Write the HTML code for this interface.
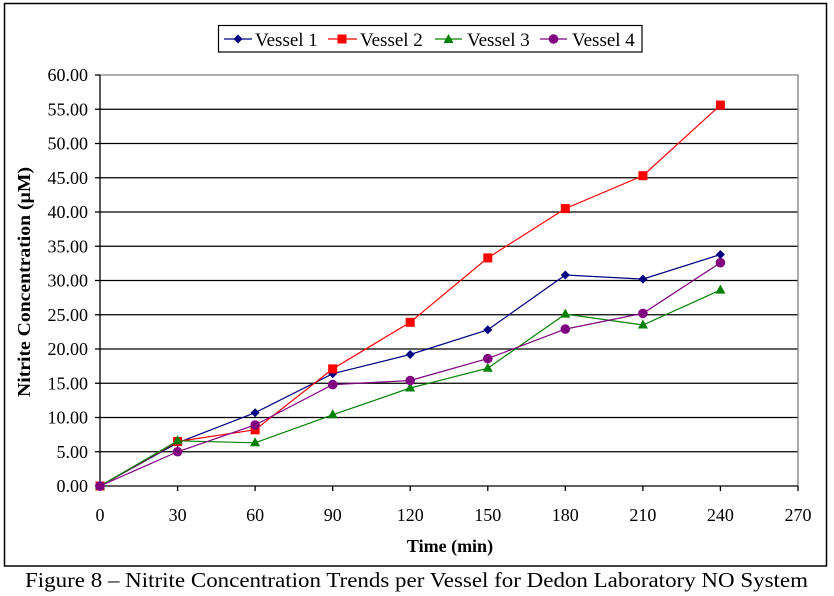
<!DOCTYPE html>
<html>
<head>
<meta charset="utf-8">
<style>
html,body{margin:0;padding:0;background:#fff;}
svg{display:block;font-family:"Liberation Serif","Times New Roman",serif;}
</style>
</head>
<body>
<svg width="834" height="596" viewBox="0 0 834 596" xmlns="http://www.w3.org/2000/svg">
<rect x="0" y="0" width="834" height="596" fill="#fff"/>
<!-- outer chart border -->
<rect x="4.5" y="3.5" width="822" height="562.5" fill="none" stroke="#000" stroke-width="1.5"/>

<!-- gridlines -->
<g stroke="#000" stroke-width="1.3">
<line x1="100" y1="451.75" x2="798" y2="451.75"/>
<line x1="100" y1="417.5" x2="798" y2="417.5"/>
<line x1="100" y1="383.25" x2="798" y2="383.25"/>
<line x1="100" y1="349" x2="798" y2="349"/>
<line x1="100" y1="314.75" x2="798" y2="314.75"/>
<line x1="100" y1="280.5" x2="798" y2="280.5"/>
<line x1="100" y1="246.25" x2="798" y2="246.25"/>
<line x1="100" y1="212" x2="798" y2="212"/>
<line x1="100" y1="177.75" x2="798" y2="177.75"/>
<line x1="100" y1="143.5" x2="798" y2="143.5"/>
<line x1="100" y1="109.25" x2="798" y2="109.25"/>
</g>
<!-- plot area border top/right gray -->
<polyline points="100,75 798,75 798,486" fill="none" stroke="#808080" stroke-width="1.3"/>
<!-- axes -->
<line x1="100" y1="75" x2="100" y2="486.5" stroke="#000" stroke-width="1.3"/>
<line x1="100" y1="486" x2="798" y2="486" stroke="#000" stroke-width="1.3"/>
<!-- y ticks -->
<g stroke="#000" stroke-width="1.3">
<line x1="95" y1="75" x2="100" y2="75"/>
<line x1="95" y1="109.25" x2="100" y2="109.25"/>
<line x1="95" y1="143.5" x2="100" y2="143.5"/>
<line x1="95" y1="177.75" x2="100" y2="177.75"/>
<line x1="95" y1="212" x2="100" y2="212"/>
<line x1="95" y1="246.25" x2="100" y2="246.25"/>
<line x1="95" y1="280.5" x2="100" y2="280.5"/>
<line x1="95" y1="314.75" x2="100" y2="314.75"/>
<line x1="95" y1="349" x2="100" y2="349"/>
<line x1="95" y1="383.25" x2="100" y2="383.25"/>
<line x1="95" y1="417.5" x2="100" y2="417.5"/>
<line x1="95" y1="451.75" x2="100" y2="451.75"/>
<line x1="95" y1="486" x2="100" y2="486"/>
<!-- x ticks -->
<line x1="100" y1="486" x2="100" y2="491"/>
<line x1="177.6" y1="486" x2="177.6" y2="491"/>
<line x1="255.1" y1="486" x2="255.1" y2="491"/>
<line x1="332.7" y1="486" x2="332.7" y2="491"/>
<line x1="410.2" y1="486" x2="410.2" y2="491"/>
<line x1="487.8" y1="486" x2="487.8" y2="491"/>
<line x1="565.3" y1="486" x2="565.3" y2="491"/>
<line x1="642.9" y1="486" x2="642.9" y2="491"/>
<line x1="720.4" y1="486" x2="720.4" y2="491"/>
<line x1="798" y1="486" x2="798" y2="491"/>
</g>

<!-- y tick labels -->
<g font-size="18" text-anchor="end" fill="#000">
<text x="88" y="81">60.00</text>
<text x="88" y="115.25">55.00</text>
<text x="88" y="149.5">50.00</text>
<text x="88" y="183.75">45.00</text>
<text x="88" y="218">40.00</text>
<text x="88" y="252.25">35.00</text>
<text x="88" y="286.5">30.00</text>
<text x="88" y="320.75">25.00</text>
<text x="88" y="355">20.00</text>
<text x="88" y="389.25">15.00</text>
<text x="88" y="423.5">10.00</text>
<text x="88" y="457.75">5.00</text>
<text x="88" y="492">0.00</text>
</g>
<!-- x tick labels -->
<g font-size="18" text-anchor="middle" fill="#000">
<text x="100" y="521">0</text>
<text x="177.6" y="521">30</text>
<text x="255.1" y="521">60</text>
<text x="332.7" y="521">90</text>
<text x="410.2" y="521">120</text>
<text x="487.8" y="521">150</text>
<text x="565.3" y="521">180</text>
<text x="642.9" y="521">210</text>
<text x="720.4" y="521">240</text>
<text x="798" y="521">270</text>
</g>

<!-- axis titles -->
<text x="450" y="552" font-size="18" font-weight="bold" text-anchor="middle">Time (min)</text>
<text transform="translate(30,282) rotate(-90)" font-size="18" font-weight="bold" text-anchor="middle" textLength="230" lengthAdjust="spacingAndGlyphs">Nitrite Concentration (µM)</text>

<!-- Series 1 -->
<polyline fill="none" stroke="#000080" stroke-width="1.2" points="100,486 177.6,442.8 255.1,412.7 332.7,373.7 410.2,354.5 487.8,329.8 565.3,275 642.9,279.1 720.4,254.5"/>
<g fill="#000080">
<polygon points="100,481.5 104.5,486 100,490.5 95.5,486"/>
<polygon points="177.6,438.3 182.1,442.8 177.6,447.3 173.1,442.8"/>
<polygon points="255.1,408.2 259.6,412.7 255.1,417.2 250.6,412.7"/>
<polygon points="332.7,369.2 337.2,373.7 332.7,378.2 328.2,373.7"/>
<polygon points="410.2,350 414.7,354.5 410.2,359 405.7,354.5"/>
<polygon points="487.8,325.3 492.3,329.8 487.8,334.3 483.3,329.8"/>
<polygon points="565.3,270.5 569.8,275 565.3,279.5 560.8,275"/>
<polygon points="642.9,274.6 647.4,279.1 642.9,283.6 638.4,279.1"/>
<polygon points="720.4,250 724.9,254.5 720.4,259 715.9,254.5"/>
</g>

<!-- Series 2 -->
<polyline fill="none" stroke="#FF0000" stroke-width="1.2" points="100,486 177.6,441.5 255.1,429.8 332.7,368.9 410.2,322.3 487.8,257.9 565.3,208.6 642.9,175.7 720.4,105.1"/>
<g fill="#FF0000">
<rect x="95.5" y="481.5" width="9" height="9"/>
<rect x="173.1" y="437" width="9" height="9"/>
<rect x="250.6" y="425.3" width="9" height="9"/>
<rect x="328.2" y="364.4" width="9" height="9"/>
<rect x="405.7" y="317.8" width="9" height="9"/>
<rect x="483.3" y="253.4" width="9" height="9"/>
<rect x="560.8" y="204.1" width="9" height="9"/>
<rect x="638.4" y="171.2" width="9" height="9"/>
<rect x="715.9" y="100.6" width="9" height="9"/>
</g>

<!-- Series 3 -->
<polyline fill="none" stroke="#008000" stroke-width="1.2" points="100,486 177.6,440.8 255.1,442.8 332.7,414.8 410.2,388 487.8,368.2 565.3,314.1 642.9,325 720.4,290.1"/>
<g fill="#008000">
<polygon points="100,480.5 105,489.5 95,489.5"/>
<polygon points="177.6,435.3 182.6,444.3 172.6,444.3"/>
<polygon points="255.1,437.3 260.1,446.3 250.1,446.3"/>
<polygon points="332.7,409.3 337.7,418.3 327.7,418.3"/>
<polygon points="410.2,382.5 415.2,391.5 405.2,391.5"/>
<polygon points="487.8,362.7 492.8,371.7 482.8,371.7"/>
<polygon points="565.3,308.6 570.3,317.6 560.3,317.6"/>
<polygon points="642.9,319.5 647.9,328.5 637.9,328.5"/>
<polygon points="720.4,284.6 725.4,293.6 715.4,293.6"/>
</g>

<!-- Series 4 -->
<polyline fill="none" stroke="#800080" stroke-width="1.2" points="100,486 177.6,451.75 255.1,425 332.7,384.6 410.2,380.5 487.8,358.6 565.3,329.1 642.9,313.4 720.4,262.7"/>
<g fill="#800080">
<circle cx="100" cy="486" r="4.8"/>
<circle cx="177.6" cy="451.75" r="4.8"/>
<circle cx="255.1" cy="425" r="4.8"/>
<circle cx="332.7" cy="384.6" r="4.8"/>
<circle cx="410.2" cy="380.5" r="4.8"/>
<circle cx="487.8" cy="358.6" r="4.8"/>
<circle cx="565.3" cy="329.1" r="4.8"/>
<circle cx="642.9" cy="313.4" r="4.8"/>
<circle cx="720.4" cy="262.7" r="4.8"/>
</g>

<!-- legend -->
<rect x="218.5" y="25.5" width="423.5" height="26.5" fill="#fff" stroke="#000" stroke-width="1.2"/>
<line x1="224" y1="39" x2="252" y2="39" stroke="#000080" stroke-width="1.2"/>
<polygon points="238,34.5 242.5,39 238,43.5 233.5,39" fill="#000080"/>
<text x="255" y="46" font-size="19">Vessel 1</text>
<line x1="328" y1="39" x2="357" y2="39" stroke="#FF0000" stroke-width="1.2"/>
<rect x="337.5" y="34.5" width="9" height="9" fill="#FF0000"/>
<text x="360" y="46" font-size="19">Vessel 2</text>
<line x1="435" y1="39" x2="462" y2="39" stroke="#008000" stroke-width="1.2"/>
<polygon points="448.5,34 453.5,43 443.5,43" fill="#008000"/>
<text x="467" y="46" font-size="19">Vessel 3</text>
<line x1="540" y1="39" x2="567" y2="39" stroke="#800080" stroke-width="1.2"/>
<circle cx="553.5" cy="39" r="4.8" fill="#800080"/>
<text x="572" y="46" font-size="19">Vessel 4</text>

<!-- caption -->
<text x="25" y="587" font-size="21" textLength="783" lengthAdjust="spacingAndGlyphs">Figure 8 – Nitrite Concentration Trends per Vessel for Dedon Laboratory NO System</text>
</svg>
</body>
</html>
